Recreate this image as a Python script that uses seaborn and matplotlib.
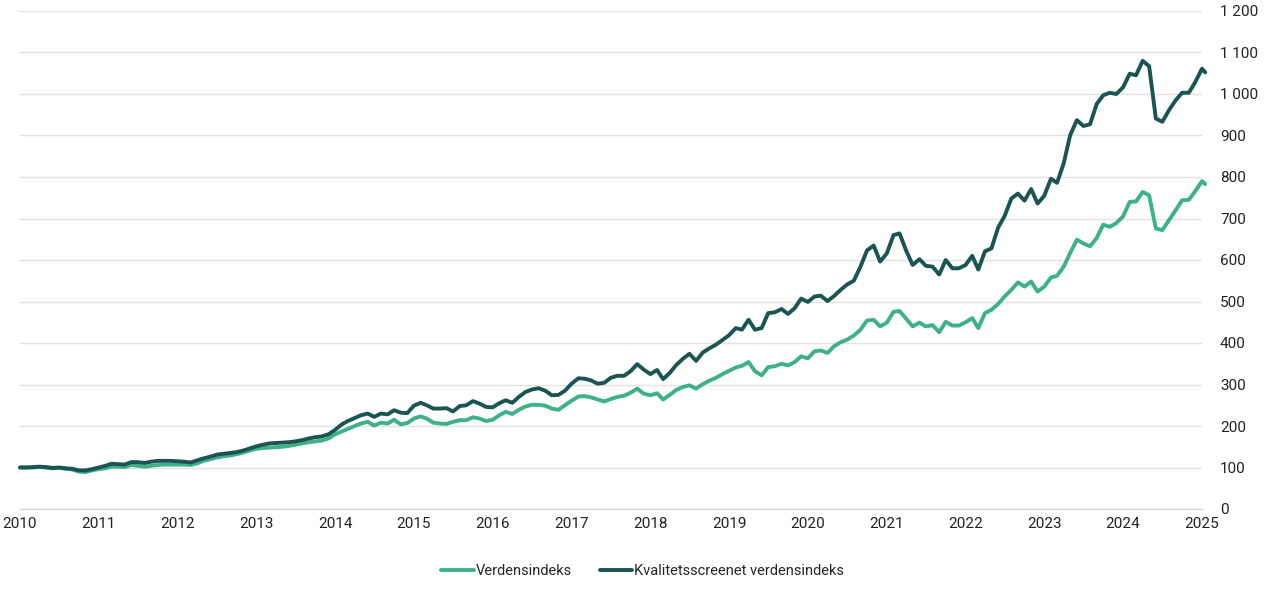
import numpy as np
import pandas as pd
import matplotlib
matplotlib.use("Agg")
import matplotlib.pyplot as plt
import seaborn as sns
from matplotlib.ticker import FuncFormatter
import matplotlib.dates as mdates

# ---- data (monthly index values, Jan 2010 = 100) ----
series_names = ["Verdensindeks", "Kvalitetsscreenet verdensindeks"]

verdensindeks = [
    100, 100, 100, 101, 100, 98, 99, 97, 95, 90, 89, 93,
    96, 98, 102, 102, 101, 106, 104, 102, 104, 106, 107, 107,
    107, 107, 106, 110, 116, 120, 124, 127, 129, 132, 136, 141,
    145, 147, 148, 149, 150, 152, 155, 158, 161, 163, 165, 170,
    180, 187, 193, 200, 206, 210, 201, 208, 206, 215, 204, 207,
    218, 223, 218, 208, 206, 205, 210, 214, 214, 221, 218, 212,
    215, 226, 234, 229, 239, 247, 251, 251, 249, 242, 239, 250,
    261, 271, 272, 269, 264, 259, 265, 270, 273, 280, 290, 278,
    274, 279, 264, 275, 287, 294, 298, 290, 301, 309, 316, 325,
    333, 341, 345, 354, 332, 322, 342, 344, 350, 346, 354, 368,
    363, 380, 382, 376, 392, 402, 408, 418, 432, 454, 456, 440,
    449, 475, 477, 458, 440, 449, 440, 443, 426, 451, 442, 442,
    450, 460, 436, 472, 480, 494, 512, 528, 546, 536, 548, 524,
    536, 558, 562, 584, 617, 649, 640, 633, 653, 685, 680, 689,
    705, 740, 741, 764, 756, 676, 672, 696, 720, 744, 745, 766,
    790, 783,
]

kvalitet = [
    100, 100, 101, 102, 101, 99, 100, 98, 97, 93, 93, 96,
    100, 104, 109, 108, 107, 113, 113, 111, 114, 116, 116, 116,
    115, 114, 112, 117, 122, 126, 131, 133, 135, 137, 141, 146,
    151, 155, 158, 159, 160, 161, 163, 166, 170, 173, 175, 180,
    191, 204, 212, 219, 226, 230, 222, 230, 228, 238, 232, 231,
    249, 256, 250, 242, 242, 243, 235, 248, 250, 260, 254, 246,
    245, 255, 262, 256, 270, 282, 288, 291, 285, 274, 275, 285,
    302, 315, 314, 310, 302, 304, 316, 321, 321, 332, 349, 336,
    325, 335, 313, 328, 347, 362, 374, 357, 377, 387, 396, 407,
    419, 436, 432, 456, 432, 436, 472, 474, 482, 470, 484, 507,
    499, 512, 514, 501, 513, 528, 541, 550, 584, 623, 635, 596,
    616, 660, 664, 622, 588, 602, 586, 584, 565, 600, 580, 580,
    588, 610, 577, 621, 628, 678, 706, 748, 760, 743, 771, 736,
    755, 796, 786, 833, 901, 937, 923, 927, 976, 997, 1003, 1000,
    1016, 1049, 1045, 1080, 1067, 941, 933, 961, 985, 1003, 1003, 1029,
    1061, 1052,
]

dates = list(pd.date_range("2010-01-01", "2025-01-01", freq="MS")) + [pd.Timestamp("2025-01-16")]

year_ticks = list(range(2010, 2026))
y_ticks = list(range(0, 1201, 100))

colors = ["#3eb08a", "#1b5552"]

df = pd.DataFrame({
    "date": dates * 2,
    "value": verdensindeks + kvalitet,
    "series": [series_names[0]] * len(dates) + [series_names[1]] * len(dates),
})

# ---- plot ----
sns.set_theme(style="white")
plt.rcParams["font.family"] = ["Roboto", "DejaVu Sans"]

fig = plt.figure(figsize=(12.8, 5.92), dpi=100)
ax = fig.add_axes([20 / 1280, 1 - 509 / 592, 1182 / 1280, 498 / 592])

sns.lineplot(data=df, x="date", y="value", hue="series", hue_order=series_names,
             palette=colors, linewidth=2.8, ax=ax, legend=True)
for ln in ax.lines:
    ln.set_clip_on(False)
    ln.set_solid_joinstyle("round")
    ln.set_solid_capstyle("round")

ax.set_xlim(pd.Timestamp("2010-01-01"), pd.Timestamp("2025-01-01"))
ax.set_ylim(0, 1200)

ax.set_xticks([pd.Timestamp(f"{y}-01-01") for y in year_ticks])
ax.xaxis.set_major_formatter(mdates.DateFormatter("%Y"))
ax.set_yticks(y_ticks)
ax.yaxis.set_major_formatter(FuncFormatter(lambda v, p: f"{int(v):,}".replace(",", " ")))
ax.yaxis.tick_right()

ax.grid(axis="y", color="#e2e2e2", linewidth=1.0)
ax.grid(axis="x", visible=False)
for s in ["top", "left", "right"]:
    ax.spines[s].set_visible(False)
ax.spines["bottom"].set_color("#d6d6d6")
ax.spines["bottom"].set_linewidth(1.0)

ax.tick_params(axis="y", length=0, pad=13, labelsize=11, labelcolor="#222222")
ax.tick_params(axis="x", direction="in", length=5, width=1, color="#d0d0d0",
               pad=6, labelsize=11, labelcolor="#222222")
ax.set_xlabel("")
ax.set_ylabel("")

handles, labels = ax.get_legend_handles_labels()
ax.get_legend().remove()
fig.legend(handles, labels, loc="center", bbox_to_anchor=(0.502, 1 - 571 / 592),
           ncol=2, frameon=False, fontsize=10.5, handlelength=2.2, handletextpad=0.15,
           columnspacing=1.9)

fig.savefig("out.png", dpi=100)
